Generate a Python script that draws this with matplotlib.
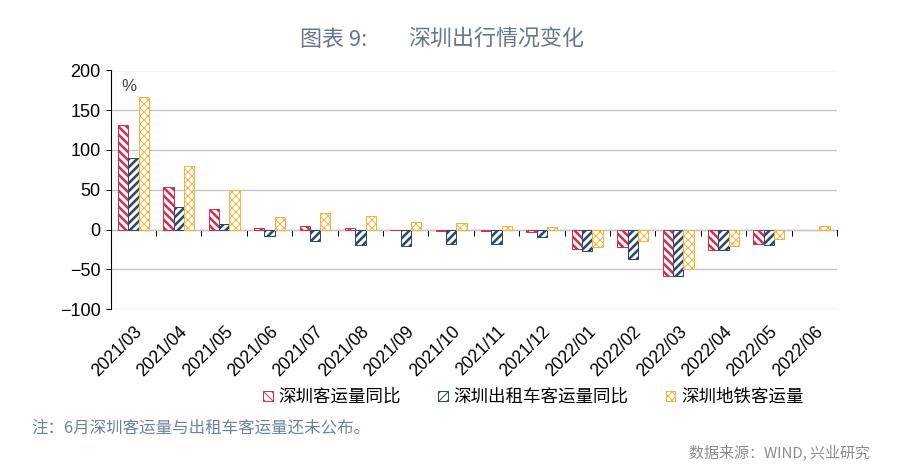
import numpy as np
import matplotlib
matplotlib.use("Agg")
import matplotlib.pyplot as plt

plt.rcParams['font.family'] = ['Liberation Sans', 'Noto Sans CJK SC', 'DejaVu Sans']
plt.rcParams['axes.unicode_minus'] = True

months = ['2021/03', '2021/04', '2021/05', '2021/06', '2021/07', '2021/08',
          '2021/09', '2021/10', '2021/11', '2021/12', '2022/01', '2022/02',
          '2022/03', '2022/04', '2022/05', '2022/06']
passenger = [132, 54, 26, 2.5, 4, 2, -1, -2, -2, -3, -25, -22, -58, -26, -18, np.nan]
taxi = [90, 28, 7, -8, -15, -19, -21, -18, -18, -10, -27, -37, -58, -26, -19, np.nan]
metro = [167, 80, 50, 16, 21, 17, 10, 8, 4, 3, -22, -15, -50, -21, -12, 4]

series = [
    ('深圳客运量同比', passenger, '#CD3450', '\\\\\\', 2.6),
    ('深圳出租车客运量同比', taxi, '#2F4A6E', '///', 2.6),
    ('深圳地铁客运量', metro, '#F2B43C', 'xxx', 1.0),
]

W, H, DPI = 900, 474, 72
fig = plt.figure(figsize=(W / DPI, H / DPI), dpi=DPI)
ax = fig.add_axes([110.7 / W, 1 - 309 / H, (837 - 110.7) / W, (309 - 70.5) / H])

x = np.arange(len(months))
bw = 0.227
handles = []
for i, (name, vals, color, hatch, hlw) in enumerate(series):
    plt.rcParams['hatch.linewidth'] = hlw
    bars = ax.bar(x + (i - 1) * bw, vals, bw, facecolor='white', edgecolor=color,
                  hatch=hatch, linewidth=1.0, label=name, zorder=3)
    for b in bars:
        if hasattr(b, 'set_hatch_linewidth'):
            b.set_hatch_linewidth(hlw)
    handles.append(bars)

ax.set_xlim(-0.5, len(months) - 0.5)
ax.set_ylim(-100, 200)
ax.set_yticks(np.arange(-100, 201, 50))
ax.tick_params(axis='y', direction='out', length=5, width=1, labelsize=18, pad=5)
ax.yaxis.grid(True, color='#C3C3C3', linewidth=1.3, zorder=0)
ax.set_axisbelow(True)
for s in ['top', 'right', 'bottom']:
    ax.spines[s].set_visible(False)
ax.spines['left'].set_linewidth(1.1)

ax.set_xticks(x)
ax.set_xticklabels(months, rotation=45, ha='right', va='top', rotation_mode='anchor', fontsize=17.5)
ax.tick_params(axis='x', length=0, pad=14)

# zero line with category boundary ticks
zero = ax.secondary_xaxis(100 / 300)
zero.set_xticks(np.arange(-0.5, len(months), 1))
zero.tick_params(axis='x', direction='out', length=6, width=1, labelbottom=False, labeltop=False)
zero.spines['bottom'].set_linewidth(1.1)
for s in ['top', 'left', 'right']:
    zero.spines[s].set_visible(False)

ax.text(0.015, 0.935, '%', transform=ax.transAxes, fontsize=17, color='#444444',
        ha='left', va='center')

fig.legend(handles=handles, loc='center left', bbox_to_anchor=(256 / W, 1 - 397 / H),
           ncol=3, frameon=False, handlelength=0.55, handleheight=0.55,
           handletextpad=0.35, columnspacing=2.1, borderaxespad=0,
           prop={'family': ['Noto Sans CJK SC'], 'size': 17.5})

title_c = '#66778C'
fig.text(300 / W, 1 - 40 / H, '图表 9:', fontsize=22, color=title_c, fontweight='medium',
         ha='left', va='center', family=['Noto Sans CJK SC'])
fig.text(408 / W, 1 - 40 / H, '深圳出行情况变化', fontsize=22, color=title_c, fontweight='medium',
         ha='left', va='center', family=['Noto Sans CJK SC'])

fig.text(31 / W, 1 - 428 / H, '注：6月深圳客运量与出租车客运量还未公布。', fontsize=16.5,
         color='#6E82A0', ha='left', va='center', family=['Noto Sans CJK SC'])
fig.text(870 / W, 1 - 452 / H, '数据来源：WIND, 兴业研究', fontsize=15,
         color='#8C8C8C', ha='right', va='center', family=['Noto Sans CJK SC'])

fig.savefig('out.png', dpi=DPI)
